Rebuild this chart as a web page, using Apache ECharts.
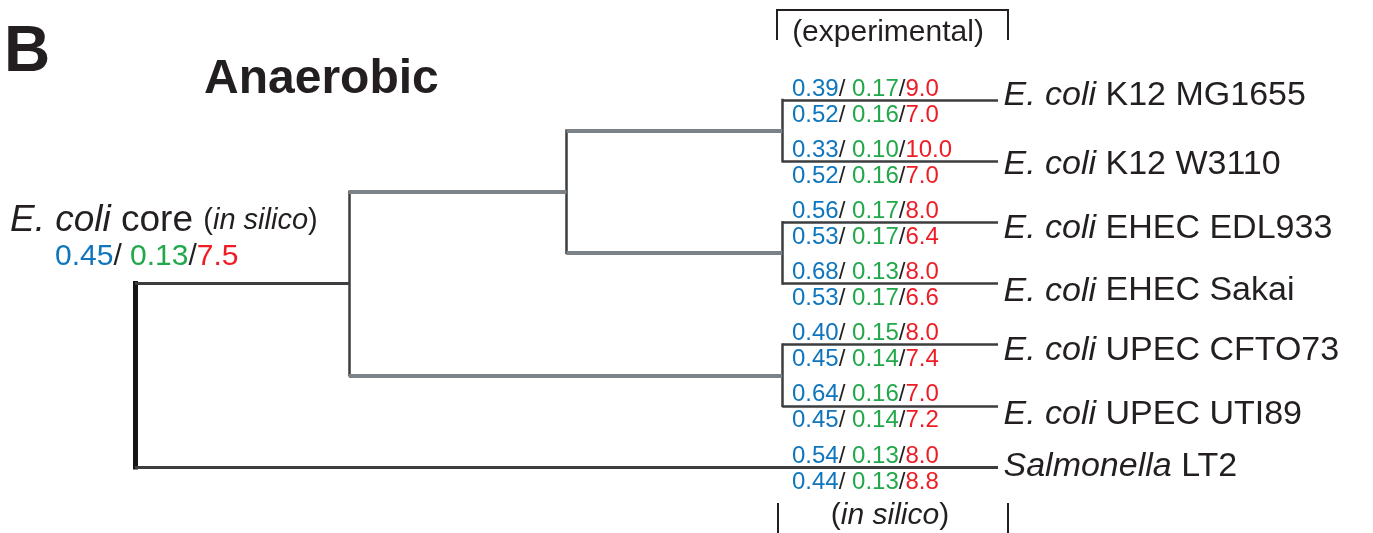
<!DOCTYPE html>
<html>
<head>
<meta charset="utf-8">
<script src="https://cdn.jsdelivr.net/npm/echarts@6/dist/echarts.min.js"></script>
<style>
  html, body { margin: 0; padding: 0; background: #fff; }
  #chart { width: 1373px; height: 533px; }
</style>
</head>
<body>
<div id="chart"></div>
<script>
// leaves, top to bottom
const leafGenus = ['E. coli', 'E. coli', 'E. coli', 'E. coli', 'E. coli', 'E. coli', 'Salmonella'];
const leafStrain = ['K12 MG1655', 'K12 W3110', 'EHEC EDL933', 'EHEC Sakai', 'UPEC CFTO73', 'UPEC UTI89', 'LT2'];

// experimental values (above each branch)
const expA = [0.39, 0.33, 0.56, 0.68, 0.40, 0.64, 0.54];
const expB = [0.17, 0.10, 0.17, 0.13, 0.15, 0.16, 0.13];
const expC = [9.0, 10.0, 8.0, 8.0, 8.0, 7.0, 8.0];

// in silico values (below each branch)
const simA = [0.52, 0.52, 0.53, 0.53, 0.45, 0.45, 0.44];
const simB = [0.16, 0.16, 0.17, 0.17, 0.14, 0.14, 0.13];
const simC = [7.0, 7.0, 6.4, 6.6, 7.4, 7.2, 8.8];

// core model
const coreValues = [0.45, 0.13, 7.5];

// tree: internal nodes, their depth and children (numbers = leaf index)
const nodeIds = ['root', 'n1', 'n2', 'k12', 'ehec', 'upec'];
const nodeDepth = [0, 24.8, 50, 75, 75, 75];
const nodeKids = [['n1', 6], ['n2', 'upec'], ['k12', 'ehec'], [0, 1], [2, 3], [4, 5]];
const leafDepth = 100;

// small vertical nudges of the strain names (px)
const nameNudge = [-6, 1.5, 5, 6, 4.5, 7.5, -2];

const FONT = "'Liberation Sans', Arial, Helvetica, sans-serif";
const INK = '#231f20';
const BLUE = '#0f75bc', GREEN = '#22a84a', RED = '#ee1c25';
const SP = '\u00a0';

const DARK = '#3b3d3f', GRAY = '#7c8388';

// walk the tree and build segments
const segments = [];
function place(id) {
  if (typeof id === 'number') return { x: leafDepth, y: id, leaf: true };
  const k = nodeIds.indexOf(id);
  const x = nodeDepth[k];
  const kids = nodeKids[k].map(place);
  const ys = kids.map(c => c.y);
  const y = ys.reduce((a, b) => a + b, 0) / ys.length;
  const isRoot = id === 'root';
  segments.push({
    coords: [[x, Math.min(...ys)], [x, Math.max(...ys)]],
    lineStyle: isRoot
      ? { color: '#151515', width: 5, cap: 'square', opacity: 1 }
      : { color: DARK, width: 2.5, cap: 'square', opacity: 1 }
  });
  kids.forEach(c => {
    let st;
    if (isRoot) st = { color: DARK, width: 3 };
    else if (c.leaf) st = { color: DARK, width: 2.5 };
    else st = { color: GRAY, width: 4 };
    st.opacity = 1;
    segments.push({ coords: [[x, c.y], [c.x, c.y]], lineStyle: st });
  });
  return { x, y, leaf: false };
}
place('root');

const valueRich = {
  bl: { color: BLUE, fontSize: 24, fontFamily: FONT },
  gr: { color: GREEN, fontSize: 24, fontFamily: FONT },
  rd: { color: RED, fontSize: 24, fontFamily: FONT },
  sl: { color: INK, fontSize: 24, fontFamily: FONT }
};
function valueText(a, b, c) {
  return '{bl|' + a.toFixed(2) + '}{sl|/' + SP + '}{gr|' + b.toFixed(2) + '}{sl|/}{rd|' + c.toFixed(1) + '}';
}

const hidden = { color: 'rgba(0,0,0,0)', opacity: 1 };

const chart = echarts.init(document.getElementById('chart'));

const option = {
  backgroundColor: '#ffffff',
  animation: false,
  grid: { left: 135, right: 375, top: 100, bottom: 66 },
  xAxis: { type: 'value', min: 0, max: 100, show: false },
  yAxis: { type: 'value', min: 0, max: 6, inverse: true, show: false },
  series: [
    {
      type: 'lines',
      coordinateSystem: 'cartesian2d',
      polyline: false,
      silent: true,
      clip: false,
      lineStyle: { opacity: 1 },
      data: segments
    },
    {
      // strain names
      type: 'scatter',
      silent: true,
      symbolSize: 1,
      itemStyle: hidden,
      data: leafStrain.map((s, i) => ({
        value: [leafDepth, i],
        label: { offset: [0, nameNudge[i] + 1.6] }
      })),
      label: {
        show: true,
        opacity: 1,
        position: 'right',
        distance: 5,
        verticalAlign: 'middle',
        formatter: p => '{it|' + leafGenus[p.dataIndex] + SP + '}{n|' + leafStrain[p.dataIndex] + '}',
        rich: {
          it: { fontStyle: 'italic', fontSize: 34, color: INK, fontFamily: FONT },
          n: { fontSize: 34, color: INK, fontFamily: FONT }
        }
      }
    },
    {
      // experimental values
      type: 'scatter',
      silent: true,
      symbolSize: 1,
      itemStyle: hidden,
      data: leafStrain.map((s, i) => [leafDepth, i]),
      label: {
        show: true,
        opacity: 1,
        position: 'inside',
        align: 'left',
        verticalAlign: 'middle',
        offset: [-206, -11],
        formatter: p => valueText(expA[p.dataIndex], expB[p.dataIndex], expC[p.dataIndex]),
        rich: valueRich
      }
    },
    {
      // in silico values
      type: 'scatter',
      silent: true,
      symbolSize: 1,
      itemStyle: hidden,
      data: leafStrain.map((s, i) => [leafDepth, i]),
      label: {
        show: true,
        opacity: 1,
        position: 'inside',
        align: 'left',
        verticalAlign: 'middle',
        offset: [-206, 15],
        formatter: p => valueText(simA[p.dataIndex], simB[p.dataIndex], simC[p.dataIndex]),
        rich: valueRich
      }
    }
  ],
  graphic: [
    {
      type: 'text', x: 4, y: 53,
      style: { text: 'B', font: 'bold 64px ' + FONT, fill: INK, verticalAlign: 'middle', textVerticalAlign: 'middle' }
    },
    {
      type: 'text', x: 204, y: 80,
      style: { text: 'Anaerobic', font: 'bold 48px ' + FONT, fill: INK, verticalAlign: 'middle', textVerticalAlign: 'middle' }
    },
    {
      type: 'text', x: 10, y: 221,
      style: {
        text: '{i|E. coli' + SP + '}{n|core' + SP + '}{s|(}{si|in silico}{s|)}',
        verticalAlign: 'middle', textVerticalAlign: 'middle',
        rich: {
          i: { fontStyle: 'italic', fontSize: 37, fill: INK, fontFamily: FONT },
          n: { fontSize: 37, fill: INK, fontFamily: FONT },
          s: { fontSize: 29, fill: INK, fontFamily: FONT },
          si: { fontStyle: 'italic', fontSize: 29, fill: INK, fontFamily: FONT }
        }
      }
    },
    {
      type: 'text', x: 55, y: 257,
      style: {
        text: '{bl|' + coreValues[0].toFixed(2) + '}{sl|/' + SP + '}{gr|' + coreValues[1].toFixed(2) + '}{sl|/}{rd|' + coreValues[2].toFixed(1) + '}',
        verticalAlign: 'middle', textVerticalAlign: 'middle',
        rich: {
          bl: { fill: BLUE, fontSize: 30, fontFamily: FONT },
          gr: { fill: GREEN, fontSize: 30, fontFamily: FONT },
          rd: { fill: RED, fontSize: 30, fontFamily: FONT },
          sl: { fill: INK, fontSize: 30, fontFamily: FONT }
        }
      }
    },
    {
      type: 'polyline',
      shape: { points: [[777, 40], [777, 10], [1008, 10], [1008, 40]] },
      style: { stroke: INK, lineWidth: 2, fill: null }
    },
    {
      type: 'text', x: 888, y: 33,
      style: { text: '(experimental)', font: '30px ' + FONT, fill: INK, align: 'center', textAlign: 'center', verticalAlign: 'middle', textVerticalAlign: 'middle' }
    },
    {
      type: 'line',
      shape: { x1: 778, y1: 503, x2: 778, y2: 533 },
      style: { stroke: INK, lineWidth: 2 }
    },
    {
      type: 'line',
      shape: { x1: 1008, y1: 503, x2: 1008, y2: 533 },
      style: { stroke: INK, lineWidth: 2 }
    },
    {
      type: 'text', x: 890, y: 516,
      style: {
        text: '{s|(}{si|in silico}{s|)}',
        align: 'center', textAlign: 'center', verticalAlign: 'middle', textVerticalAlign: 'middle',
        rich: {
          s: { fontSize: 30, fill: INK, fontFamily: FONT },
          si: { fontStyle: 'italic', fontSize: 30, fill: INK, fontFamily: FONT }
        }
      }
    }
  ]
};

chart.setOption(option);
window.addEventListener('resize', () => chart.resize());
</script>
</body>
</html>
